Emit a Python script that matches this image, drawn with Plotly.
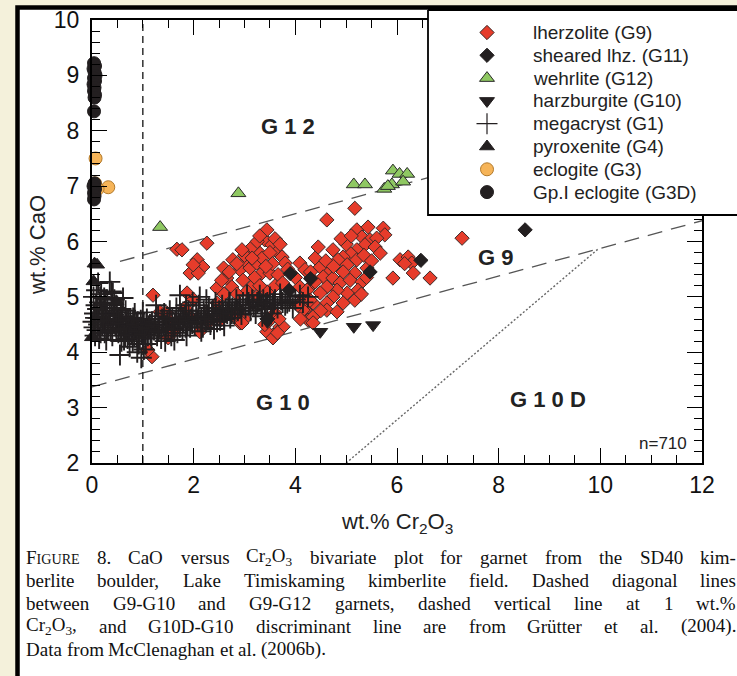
import plotly.graph_objects as go

W, H = 737, 676

# ---------------- data ----------------
lherz_x = [1.2, 1.18, 1.1, 1.67, 1.77, 2.26, 2.07, 2.18, 1.93, 2.09, 1.99,
           1.34, 1.47, 1.5, 1.6, 1.87, 1.83, 2.12, 2.46, 2.91, 2.78, 3.0, 2.3, 1.95, 2.55, 2.0, 1.55,
           2.46, 2.65, 2.59, 2.77, 2.97, 3.07, 3.3, 3.4, 3.44, 3.54, 3.64, 3.74, 3.8, 2.91, 3.11, 3.24,
           3.34, 3.5, 3.66, 2.75, 2.97, 3.17, 3.44, 3.24, 2.95, 3.7, 3.5, 3.6, 3.56, 3.44, 3.56, 3.76,
           2.55, 2.7, 2.85, 3.0, 3.15, 3.25, 3.35, 3.5, 3.6, 3.7, 3.55, 3.42, 3.2, 3.05, 3.3, 3.6, 3.75,
           3.85, 2.85, 2.6, 3.15, 2.95, 3.3, 3.68, 3.4, 3.65,
           4.09, 4.19, 4.29, 4.15, 4.35, 4.19, 4.25, 4.09,
           5.17, 4.62, 5.21, 5.43, 5.73, 5.76, 5.31, 5.47, 5.6, 5.37, 5.21, 5.57, 5.08, 5.67, 4.74, 4.94,
           4.39, 4.84, 5.21, 5.02, 5.41, 5.17, 4.68, 4.49, 4.55, 4.74, 4.94, 4.88, 5.08, 5.31, 5.23, 5.02,
           4.82, 4.62, 4.39, 4.23, 4.49, 4.74, 5.17, 4.94, 4.62, 4.29, 4.15, 4.35, 4.62, 4.82, 4.35,
           4.0, 4.45, 4.6, 4.3, 5.35, 5.5, 5.0, 4.9, 5.1, 4.5, 4.05, 5.3, 4.75, 4.1, 5.4,
           6.06, 6.22, 6.29, 5.92, 6.32, 6.65, 6.15, 7.28]
lherz_y = [5.03, 3.92, 4.04, 5.86, 5.85, 5.97, 5.67, 5.54, 5.43, 5.43, 5.58,
           4.73, 4.71, 4.26, 4.37, 5.07, 4.8, 4.37, 4.89, 4.53, 4.67, 4.6, 4.55, 4.62, 4.6, 4.95, 4.55,
           5.16, 5.34, 5.52, 5.67, 5.61, 5.81, 5.79, 6.03, 6.21, 5.94, 5.81, 5.72, 5.61, 5.49, 5.52, 5.61,
           5.43, 5.43, 5.4, 5.18, 5.3, 5.21, 5.09, 5.0, 4.53, 4.46, 4.58, 4.71, 4.31, 4.37, 4.26, 4.46,
           5.3, 5.45, 5.6, 5.75, 5.9, 6.0, 5.7, 5.8, 6.05, 5.95, 5.6, 5.55, 5.35, 5.1, 5.2, 5.2, 5.25,
           5.5, 5.05, 5.05, 5.7, 5.85, 6.1, 4.6, 4.5, 4.35,
           5.61, 5.49, 5.18, 5.0, 4.89, 4.76, 4.58, 5.18,
           6.6, 6.39, 6.21, 6.26, 6.24, 6.12, 6.08, 6.03, 6.06, 5.94, 5.85, 5.9, 5.79, 5.79, 5.85, 5.72,
           5.7, 5.67, 5.67, 5.58, 5.52, 5.43, 5.49, 5.54, 5.36, 5.34, 5.45, 5.25, 5.3, 5.27, 5.12, 5.07,
           5.12, 5.18, 5.27, 5.12, 5.07, 5.0, 4.94, 4.89, 4.89, 4.94, 4.76, 4.64, 4.76, 4.73, 4.53,
           5.35, 5.9, 5.65, 5.45, 5.75, 5.65, 5.95, 6.05, 6.1, 4.75, 4.85, 5.05, 5.55, 4.6, 5.35,
           5.67, 5.72, 5.61, 5.34, 5.43, 5.34, 5.6, 6.06]

mega_x = [0.02, 0.05, 0.08, 0.03, 0.1, 0.12, 0.15, 0.18, 0.2, 0.22, 0.25, 0.27, 0.3, 0.32, 0.35, 0.38,
          0.4, 0.42, 0.45, 0.48, 0.12, 0.35, 0.41, 0.16, 0.06, 0.14, 0.28, 0.5, 0.24, 0.09, 0.3, 0.44,
          0.2, 0.36,
          0.04, 0.07, 0.11, 0.13, 0.17, 0.19, 0.23, 0.26, 0.29, 0.33, 0.37, 0.39, 0.43, 0.46, 0.49,
          0.52, 0.55, 0.58, 0.6, 0.62, 0.65, 0.68, 0.7, 0.72, 0.75, 0.78, 0.8, 0.82, 0.85, 0.88, 0.9,
          0.92, 0.95, 0.98, 1.0, 1.02, 1.05, 1.08, 1.1, 1.12, 1.15, 1.18, 0.61, 0.55, 0.89, 0.97, 1.02,
          0.66, 0.84, 1.0, 0.74, 1.06, 0.57,
          0.53, 0.56, 0.59, 0.63, 0.67, 0.71, 0.73, 0.77, 0.81, 0.83, 0.87, 0.91, 0.94, 0.96, 0.99,
          1.03, 1.07, 1.11, 1.14, 1.17,
          1.22, 1.25, 1.28, 1.3, 1.33, 1.36, 1.4, 1.42, 1.45, 1.48, 1.5, 1.53, 1.56, 1.58, 1.6, 1.63,
          1.66, 1.68, 1.7, 1.73, 1.75, 1.78, 1.8, 1.83, 1.86, 1.88, 1.9, 1.93, 1.96, 1.98, 1.73, 1.26,
          1.44, 1.62, 1.85,
          1.24, 1.31, 1.38, 1.46, 1.52, 1.57, 1.64, 1.72, 1.79, 1.84, 1.91, 1.97,
          2.02, 2.05, 2.08, 2.1, 2.12, 2.15, 2.18, 2.2, 2.24, 2.27, 2.3, 2.33, 2.36, 2.4, 2.43, 2.46,
          2.5, 2.53, 2.56, 2.6, 2.63, 2.66, 2.7, 2.72, 2.76, 2.8, 2.84, 2.87, 2.9, 2.94, 2.97, 2.15,
          2.4, 2.6, 2.71, 2.25,
          2.06, 2.13, 2.22, 2.29, 2.38, 2.45, 2.52, 2.58, 2.68, 2.75, 2.82, 2.92,
          3.02, 3.05, 3.08, 3.12, 3.15, 3.18, 3.22, 3.25, 3.3, 3.33, 3.37, 3.4, 3.45, 3.5, 3.55, 3.6,
          3.65, 3.7, 3.75, 3.8, 3.84, 3.9, 3.95, 4.0, 4.09, 4.15, 4.25, 3.35, 3.52,
          3.1, 3.28, 3.42, 3.58, 3.72, 3.88]
mega_y = [4.55, 4.7, 4.85, 5.0, 4.4, 4.62, 4.9, 5.05, 4.5, 4.75, 4.35, 4.6, 4.95, 4.45, 4.7, 5.1,
          4.3, 4.55, 4.8, 4.4, 5.25, 5.27, 5.07, 5.0, 4.3, 4.25, 4.22, 4.6, 4.98, 5.12, 4.4, 4.95,
          4.65, 4.5,
          4.45, 4.62, 4.78, 4.5, 4.35, 4.8, 4.55, 4.88, 4.68, 4.58, 4.38, 4.85, 4.68, 4.5, 4.72,
          4.35, 4.5, 4.2, 4.65, 4.4, 4.3, 4.55, 4.25, 4.45, 4.6, 4.35, 4.2, 4.5, 4.4, 4.3, 4.55,
          4.15, 4.45, 4.35, 4.25, 4.5, 4.4, 4.6, 4.3, 4.45, 4.35, 4.55, 4.98, 3.95, 4.0, 3.9, 4.05,
          4.75, 4.7, 4.72, 4.1, 4.15, 4.78,
          4.58, 4.42, 4.52, 4.22, 4.42, 4.58, 4.32, 4.48, 4.62, 4.3, 4.5, 4.38, 4.25, 4.58, 4.45,
          4.32, 4.52, 4.42, 4.5, 4.25,
          4.4, 4.55, 4.3, 4.65, 4.45, 4.25, 4.5, 4.7, 4.35, 4.55, 4.4, 4.75, 4.3, 4.6, 4.45, 4.5,
          4.8, 4.35, 4.6, 4.45, 4.7, 4.4, 4.55, 4.65, 4.3, 4.5, 4.75, 4.45, 4.6, 4.9, 5.03, 4.85,
          4.2, 4.22, 4.85,
          4.48, 4.38, 4.6, 4.48, 4.62, 4.42, 4.58, 4.52, 4.62, 4.45, 4.58, 4.52,
          4.5, 4.7, 4.55, 4.85, 5.0, 4.6, 4.45, 4.75, 4.55, 4.65, 4.8, 4.5, 4.7, 4.6, 4.9, 4.55,
          4.75, 4.65, 4.85, 4.6, 4.78, 4.7, 4.9, 4.62, 4.8, 4.7, 4.95, 4.75, 4.85, 4.68, 4.9, 4.38,
          4.42, 4.48, 4.9, 4.95,
          4.62, 4.55, 4.65, 4.6, 4.75, 4.68, 4.58, 4.72, 4.8, 4.7, 4.78, 4.8,
          4.8, 5.03, 4.9, 4.75, 4.95, 4.85, 4.7, 4.9, 5.03, 4.82, 4.95, 4.78, 4.9, 5.0, 4.85, 4.95,
          4.8, 5.05, 4.9, 4.85, 4.89, 5.0, 4.8, 4.95, 5.03, 4.9, 5.0, 4.65, 4.7,
          4.85, 4.92, 4.88, 4.9, 4.95, 4.92]

g11_x = [3.9, 4.3, 3.88, 3.45, 5.47, 6.47, 8.52]
g11_y = [5.42, 5.33, 5.12, 4.6, 5.45, 5.66, 6.21]

wehr_x = [1.34, 2.88, 5.15, 5.37, 5.75, 5.9, 5.92, 6.05, 6.2, 6.12, 5.82]
wehr_y = [6.26, 6.87, 7.03, 7.03, 6.95, 7.03, 7.28, 7.22, 7.22, 7.08, 7.0]

harz_x = [4.49, 5.15, 5.53, 3.45]
harz_y = [4.37, 4.46, 4.49, 4.55]

pyrox_x = [0.05, 0.1, 0.03, 0.48, 0.0]
pyrox_y = [5.6, 5.58, 5.28, 4.92, 4.27]

eclo_x = [0.07, 0.32, 0.06, 0.11]
eclo_y = [7.5, 6.98, 7.05, 6.95]

g3d_x = [0.04, 0.06, 0.03, 0.05, 0.07, 0.04, 0.06, 0.03, 0.05, 0.04, 0.06, 0.05, 0.04,
         0.05, 0.03, 0.06, 0.04, 0.05, 0.04]
g3d_y = [9.22, 9.17, 9.12, 9.06, 9.0, 8.95, 8.9, 8.84, 8.78, 8.72, 8.65, 8.6, 8.35,
         7.05, 7.0, 6.95, 6.88, 6.82, 6.76]

# classification boundary lines (Grütter et al. 2004)
g9g10_x = [0, 12]
g9g10_y = [3.375, 6.375]
g9g12_x = [0.55, 12]
g9g12_y = [5.64, 8.5]
g10d_x = [5.0, 9.95]
g10d_y = [2.0, 5.86]
cr1_x = [1, 1]
cr1_y = [2, 10]

legend_labels = ["lherzolite (G9)", "sheared lhz. (G11)", "wehrlite (G12)", "harzburgite (G10)",
                 "megacryst (G1)", "pyroxenite (G4)", "eclogite (G3)", "Gp.I eclogite (G3D)"]

x_ticks = [0, 2, 4, 6, 8, 10, 12]
y_ticks = [2, 3, 4, 5, 6, 7, 8, 9, 10]

caption_lines = [
    "FIGURE 8. CaO versus Cr2O3 bivariate plot for garnet from the SD40 kim-",
    "berlite boulder, Lake Timiskaming kimberlite field. Dashed diagonal lines",
    "between G9-G10 and G9-G12 garnets, dashed vertical line at 1 wt.%",
    "Cr2O3, and G10D-G10 discriminant line are from Grütter et al. (2004).",
    "Data from McClenaghan et al. (2006b).",
]

# ---------------- styles ----------------
SANS = "Liberation Sans, Arial, sans-serif"
SERIF = "Liberation Serif, Times New Roman, serif"
RED = "#e63c2b"
GREEN = "#8fc862"
ORANGE = "#f6b458"
BLACK = "#231f20"

styles = [
    dict(symbol="diamond", size=11, color=RED, line=dict(color="#3b2a28", width=1)),
    dict(symbol="diamond", size=11, color=BLACK, line=dict(color=BLACK, width=1)),
    dict(symbol="triangle-up", size=13, color=GREEN, line=dict(color="#2a2a2a", width=1)),
    dict(symbol="triangle-down", size=13, color=BLACK, line=dict(color=BLACK, width=1)),
    dict(symbol="cross-thin", size=15, color=BLACK, line=dict(color=BLACK, width=1.9)),
    dict(symbol="triangle-up", size=13, color=BLACK, line=dict(color=BLACK, width=1)),
    dict(symbol="circle", size=13, color=ORANGE, line=dict(color="#b27a2c", width=1)),
    dict(symbol="circle", size=13, color=BLACK, line=dict(color=BLACK, width=1)),
]
legend_styles = [dict(s) for s in styles]
legend_styles[4] = dict(symbol="cross-thin", size=15, color=BLACK, line=dict(color=BLACK, width=1.2))


def pxx(x):
    return x / W


def pxy(y):
    return 1 - y / H


fig = go.Figure()

# boundary lines
fig.add_trace(go.Scatter(x=g9g10_x, y=g9g10_y, mode="lines",
                         line=dict(color="#555", width=1.3, dash="15px,9px"), hoverinfo="skip"))
fig.add_trace(go.Scatter(x=g9g12_x, y=g9g12_y, mode="lines",
                         line=dict(color="#555", width=1.3, dash="15px,9px"), hoverinfo="skip"))
fig.add_trace(go.Scatter(x=g10d_x, y=g10d_y, mode="lines",
                         line=dict(color="#666", width=1.4, dash="2px,2px"), hoverinfo="skip"))
fig.add_trace(go.Scatter(x=cr1_x, y=cr1_y, mode="lines",
                         line=dict(color="#222", width=1.4, dash="7px,5px"), hoverinfo="skip"))

series = [
    (lherz_x, lherz_y, 0),
    (mega_x, mega_y, 4),
    (g11_x, g11_y, 1),
    (harz_x, harz_y, 3),
    (pyrox_x, pyrox_y, 5),
    (wehr_x, wehr_y, 2),
    (eclo_x, eclo_y, 6),
    (g3d_x, g3d_y, 7),
]
for sx, sy, si in series:
    fig.add_trace(go.Scatter(x=sx, y=sy, mode="markers", marker=styles[si],
                             name=legend_labels[si], cliponaxis=False))

# ---------------- manual legend on an overlay pixel axis ----------------
LEG_L, LEG_T, LEG_B, LEG_R = 428, 10, 215, 760
fig.add_trace(go.Scatter(x=[LEG_L, LEG_R, LEG_R, LEG_L, LEG_L],
                         y=[LEG_T, LEG_T, LEG_B, LEG_B, LEG_T],
                         mode="lines", fill="toself", fillcolor="white",
                         line=dict(color="black", width=1.8),
                         xaxis="x2", yaxis="y2", hoverinfo="skip"))
row0, rowstep = 32.5, 22.8
for i, lab in enumerate(legend_labels):
    ry = row0 + i * rowstep
    fig.add_trace(go.Scatter(x=[487], y=[ry], mode="markers", marker=legend_styles[i],
                             xaxis="x2", yaxis="y2", cliponaxis=False, hoverinfo="skip"))

annotations = []
for i, lab in enumerate(legend_labels):
    ry = row0 + i * rowstep
    annotations.append(dict(x=pxx(531), y=pxy(ry), xref="paper", yref="paper", text=lab,
                            showarrow=False, xanchor="left", yanchor="middle",
                            font=dict(family=SANS, size=19, color="#222")))

# region labels
for txt, x, y in [("G 1 2", 3.86, 8.07), ("G 9", 7.93, 5.72), ("G 1 0", 3.76, 3.1),
                  ("G 1 0 D", 8.97, 3.14)]:
    annotations.append(dict(x=x, y=y, xref="x", yref="y", text="<b>" + txt + "</b>",
                            showarrow=False, xanchor="center", yanchor="middle",
                            font=dict(family=SANS, size=22, color="#222")))

annotations.append(dict(x=11.75, y=2.36, xref="x", yref="y", text="n=710", showarrow=False,
                        xanchor="right", yanchor="middle",
                        font=dict(family=SANS, size=17, color="#222")))

# axis titles
annotations.append(dict(x=pxx(37), y=pxy(245), xref="paper", yref="paper", text="wt.% CaO",
                        textangle=-90, showarrow=False, xanchor="center", yanchor="middle",
                        font=dict(family=SANS, size=22, color="#222")))
annotations.append(dict(x=pxx(397), y=pxy(523), xref="paper", yref="paper",
                        text="wt.% Cr<sub>2</sub>O<sub>3</sub>", showarrow=False,
                        xanchor="center", yanchor="middle",
                        font=dict(family=SANS, size=22, color="#222")))

# ---------------- caption: justified word by word (Times metrics) ----------------
CAP_SIZE = 19
SC = 0.74  # small-caps scale
TIMES = {' ': 250, '%': 833, '(': 333, ')': 333, ',': 250, '-': 333, '.': 250, ':': 278,
         'A': 722, 'B': 667, 'C': 667, 'D': 722, 'E': 611, 'F': 556, 'G': 722, 'H': 722,
         'I': 333, 'J': 389, 'K': 722, 'L': 611, 'M': 889, 'N': 722, 'O': 722, 'P': 556,
         'Q': 722, 'R': 667, 'S': 556, 'T': 611, 'U': 722, 'V': 722, 'W': 944, 'X': 722,
         'Y': 722, 'Z': 611, 'a': 444, 'b': 500, 'c': 444, 'd': 500, 'e': 444, 'f': 333,
         'g': 500, 'h': 500, 'i': 278, 'j': 278, 'k': 500, 'l': 278, 'm': 778, 'n': 500,
         'o': 500, 'p': 500, 'q': 500, 'r': 333, 's': 389, 't': 278, 'u': 500, 'v': 500,
         'w': 722, 'x': 500, 'y': 500, 'z': 444, 'ü': 500}


def word_markup(w):
    if w.startswith("FIGURE"):
        return ("F<span style='font-size:%.1fpx'>IGURE</span>" % (CAP_SIZE * SC),
                (TIMES['F'] + SC * sum(TIMES[c] for c in "IGURE")) * CAP_SIZE / 1000)
    if "Cr2O3" in w:
        rest = w.replace("Cr2O3", "")
        width = (sum(TIMES[c] for c in "CrO") + 0.7 * 1000 + sum(TIMES.get(c, 500) for c in rest))
        return (w.replace("Cr2O3", "Cr<sub>2</sub>O<sub>3</sub>"), width * CAP_SIZE / 1000)
    return (w, sum(TIMES.get(c, 500) for c in w) * CAP_SIZE / 1000)


CAP_L, CAP_R = 25, 735
for li, line in enumerate(caption_lines):
    words = [word_markup(w) for w in line.split(" ")]
    yy = pxy(557 + li * 23)
    natural = sum(wd for _, wd in words)
    if li < len(caption_lines) - 1:
        gap = (CAP_R - CAP_L - natural) / (len(words) - 1)
    else:
        gap = TIMES[' '] * CAP_SIZE / 1000
    xcur = CAP_L
    for mk, wd in words:
        annotations.append(dict(x=pxx(xcur), y=yy, xref="paper", yref="paper", text=mk,
                                showarrow=False, xanchor="left", yanchor="middle", borderpad=0,
                                font=dict(family=SERIF, size=CAP_SIZE, color="#111")))
        xcur += wd + gap

shapes = [
    dict(type="rect", xref="paper", yref="paper", x0=pxx(17.5), x1=pxx(800), y0=pxy(7.5),
         y1=pxy(800), fillcolor="white", line=dict(color="black", width=4.5), layer="below"),
]

axis_common = dict(showgrid=False, zeroline=False, showline=True, linecolor="black",
                   linewidth=2, ticks="inside", tickcolor="black", tickwidth=1.4,
                   mirror="allticks", automargin=False,
                   tickfont=dict(family=SANS, size=23, color="#111"))

fig.update_layout(
    width=W, height=H, margin=dict(l=0, r=0, t=0, b=0, pad=0),
    paper_bgcolor="#f4f1db", plot_bgcolor="rgba(0,0,0,0)",
    showlegend=False,
    xaxis=dict(domain=[92 / W, 702 / W], range=[0, 12], tickvals=x_ticks, ticklen=15,
               minor=dict(dtick=0.5, ticklen=8, ticks="inside", tickcolor="black", tickwidth=1.2),
               anchor="y", **axis_common),
    yaxis=dict(domain=[1 - 463 / H, 1 - 20 / H], range=[2, 10], tickvals=y_ticks, ticklen=15,
               minor=dict(dtick=0.2, ticklen=8, ticks="inside", tickcolor="black", tickwidth=1.2),
               anchor="x", ticklabelstandoff=6, **axis_common),
    xaxis2=dict(domain=[0, 1], range=[0, W], visible=False, anchor="y2", fixedrange=True,
                automargin=False),
    yaxis2=dict(domain=[0, 1], range=[H, 0], visible=False, anchor="x2", fixedrange=True,
                automargin=False),
    annotations=annotations,
    shapes=shapes,
)

fig.write_html("out.html", config={"displayModeBar": False},
               post_script="document.body.style.margin='0px';"
                           "document.body.style.padding='0px';"
                           "document.body.style.overflow='hidden';")
